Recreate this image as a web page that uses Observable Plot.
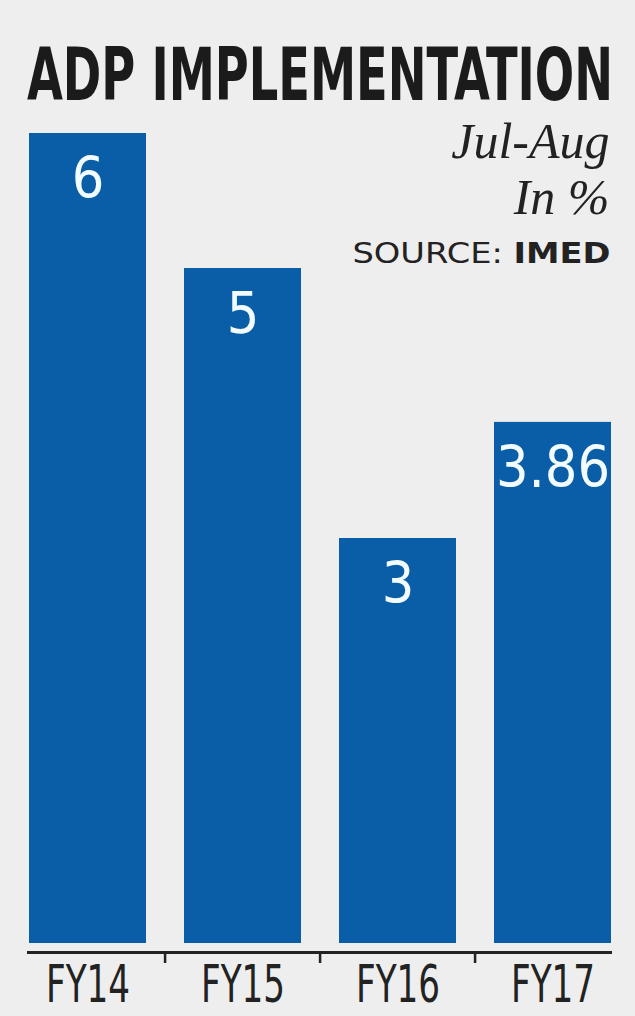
<!DOCTYPE html>
<html>
<head>
<meta charset="utf-8">
<script src="https://cdn.jsdelivr.net/npm/d3@7"></script>
<script src="https://cdn.jsdelivr.net/npm/@observablehq/plot@0.6"></script>
<style>
  html, body { margin: 0; padding: 0; background: #eeeeee; }
  #wrap { width: 635px; height: 1016px; position: relative; overflow: hidden; }
  #title { position: relative; height: 115px; }
  #t { position: absolute; left: 27px; top: 38px; font-family: "Liberation Sans Narrow", "DejaVu Sans Condensed", sans-serif; font-weight: bold; font-size: 73px; line-height: 1; white-space: nowrap; color: #1b1b1b; transform-origin: 0 0; }
  svg { display: block; }
</style>
</head>
<body>
<div id="wrap">
  <div id="title"><span id="t"></span></div>
  <div id="chart"></div>
</div>
<script>
const title = "ADP IMPLEMENTATION";
const subtitlePeriod = "Jul-Aug";
const subtitleUnit = "In %";
const sourceLabel = "SOURCE:";
const sourceName = "IMED";
const categories = ["FY14", "FY15", "FY16", "FY17"];
const values = [6, 5, 3, 3.86];
const valueLabels = ["6", "5", "3", "3.86"];

const barColor = "#0a5ea7";
const ink = "#222222";
const narrow = "'Liberation Sans Narrow', 'DejaVu Sans Condensed', sans-serif";

const data = categories.map((c, i) => ({cat: c, value: values[i], label: valueLabels[i]}));

const W = 635, H = 901, ML = 27, MR = 23, PI = 0.246;
const step = (W - ML - MR) / (categories.length - PI);

const chart = Plot.plot({
  width: W,
  height: H,
  marginTop: 18,
  marginBottom: 73,
  marginLeft: ML,
  marginRight: MR,
  style: {background: "transparent", overflow: "visible"},
  x: {domain: categories, paddingInner: PI, paddingOuter: 0, label: null},
  y: {domain: [0, 6], axis: null},
  marks: [
    Plot.barY(data, {x: "cat", y: "value", fill: barColor}),
    Plot.ruleY([0], {dy: 9, stroke: ink, strokeWidth: 3}),
    Plot.ruleX(categories.slice(1), {x: d => d, dx: -step / 2, y1: 0, y2: 0, insetTop: 9, insetBottom: -20, stroke: ink, strokeWidth: 2.5}),
    Plot.text(data, {x: "cat", y: "value", text: "label", lineAnchor: "top", dy: 24, fill: "#f2fcff", fontSize: 57, fontFamily: narrow}),
    Plot.axisX({tickSize: 0, tickPadding: 22, fontSize: 52, fontFamily: narrow, fill: ink, lineAnchor: "top", label: null}),
    Plot.text([subtitlePeriod], {frameAnchor: "top-right", text: d => d, textAnchor: "end", lineAnchor: "top", dx: -3, dy: -11, fontSize: 50, fontStyle: "italic", fontFamily: "'Liberation Serif', 'DejaVu Serif', serif", fill: ink}),
    Plot.text([subtitleUnit], {frameAnchor: "top-right", text: d => d, textAnchor: "end", lineAnchor: "top", dx: -3, dy: 45, fontSize: 50, fontStyle: "italic", fontFamily: "'Liberation Serif', 'DejaVu Serif', serif", fill: ink}),
    Plot.text([sourceLabel + " " + sourceName], {frameAnchor: "top-right", text: d => d, textAnchor: "end", lineAnchor: "top", dx: -2, dy: 110, fontSize: 28, fontFamily: "'DejaVu Sans', sans-serif", fill: ink})
  ]
});
document.getElementById("chart").appendChild(chart);

// source text: regular label + bold name
d3.select(chart).selectAll("text").filter(function() { return this.textContent === sourceLabel + " " + sourceName; })
  .each(function() {
    const t = d3.select(this);
    t.text(null);
    t.append("tspan").text(sourceLabel + " ");
    t.append("tspan").attr("font-weight", "bold").text(sourceName);
    t.attr("textLength", 258).attr("lengthAdjust", "spacingAndGlyphs");
  });

// condensed category labels
d3.select(chart).selectAll('g[aria-label="x-axis tick label"] text')
  .attr("textLength", 84).attr("lengthAdjust", "spacingAndGlyphs");

// title, stretched to the chart width
const t = document.getElementById("t");
t.textContent = title;
const tw = t.getBoundingClientRect().width;
t.style.transform = `scaleX(${586 / tw})`;
</script>
</body>
</html>
